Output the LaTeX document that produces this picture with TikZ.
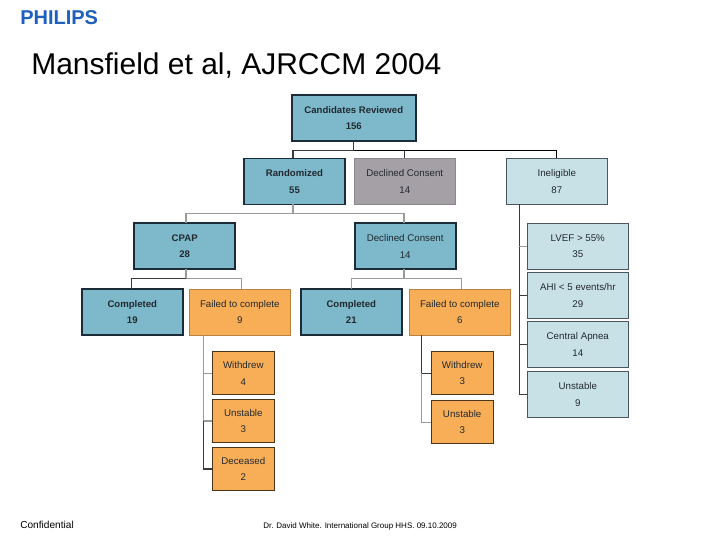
\documentclass[tikz,border=0pt]{standalone}
\usepackage{fontspec}
\setmainfont{Liberation Sans}
\definecolor{teal}{HTML}{7DB8CB}
\definecolor{greybox}{HTML}{A59FA6}
\definecolor{pale}{HTML}{C8E1E6}
\definecolor{orangebox}{HTML}{F8AE57}
\definecolor{darkedge}{HTML}{1B2B38}
\definecolor{phil}{HTML}{1E60BE}
\definecolor{ink}{HTML}{222A30}
\definecolor{wire}{HTML}{9A9A9A}
\definecolor{wiredark}{HTML}{3A3A3A}
\tikzset{
  boxbase/.style={inner sep=0pt,outer sep=0pt,align=center,text=ink,font=\fontsize{7.3}{12.4}\selectfont,minimum width=75.75pt,minimum height=34.5pt},
  tealbold/.style={boxbase,fill=teal,draw=darkedge,line width=1.2pt,font=\fontsize{7.2}{12.4}\selectfont\bfseries},
  tealplain/.style={boxbase,fill=teal,draw=darkedge,line width=1.2pt},
  greyplain/.style={boxbase,fill=greybox,draw=greybox!85!black,line width=.5pt},
  paleplain/.style={boxbase,fill=pale,draw=darkedge!80,line width=.6pt},
  orangeplain/.style={boxbase,fill=orangebox,draw=orangebox!75!black,line width=.6pt},
  smallorange/.style={orangeplain,minimum width=46.5pt,minimum height=32.5pt,draw=black!70!orangebox},
  thin wire/.style={draw=wire,line width=.8pt},
  dark wire/.style={draw=wiredark,line width=.8pt}
}
\begin{document}
\begin{tikzpicture}[x=.75pt,y=-.75pt]
\useasboundingbox (0,0) rectangle (720,540);
\fill[white] (0,0) rectangle (720,540);

% junctions
\coordinate (jtop) at (353.5,150.5);
\coordinate (jrand) at (293,213.5);
\coordinate (jcpap) at (186,278.3);
\coordinate (jdec) at (404,278.3);
\coordinate (tfail) at (203.3,0);
\coordinate (tsix) at (421.3,0);
\coordinate (tinel) at (519.3,0);

\node[tealbold,minimum width=93pt] (cand) at (353.8,118) {Candidates Reviewed\\156};
\node[tealbold] (rand) at (294.5,181.3) {Randomized\\55};
\node[greyplain] (declg) at (404.8,181.3) {Declined Consent\\14};
\node[paleplain] (inel) at (556.8,181.3) {Ineligible\\87};
\node[tealbold] (cpap) at (184.7,246.2) {CPAP\\28};
\node[tealplain] (decl) at (405.2,246.2) {Declined Consent\\14};
\node[tealbold] (comp) at (132.3,312) {Completed\\19};
\node[orangeplain] (fail) at (239.8,312) {Failed to complete\\9};
\node[tealbold] (compb) at (351.3,312) {Completed\\21};
\node[orangeplain] (failb) at (459.8,312) {Failed to complete\\6};
\node[paleplain] (lvef) at (577.8,246.2) {LVEF > 55\%\\35};
\node[paleplain] (ahi) at (577.8,295.3) {AHI < 5 events/hr\\29};
\node[paleplain] (capn) at (577.8,344.6) {Central Apnea\\14};
\node[paleplain] (unst) at (577.8,394.3) {Unstable\\9};
\node[smallorange] (wda) at (243.3,373.2) {Withdrew\\4};
\node[smallorange] (usa) at (243.3,421) {Unstable\\3};
\node[smallorange] (dec) at (243.3,469) {Deceased\\2};
\node[smallorange] (wdb) at (462.2,373.2) {Withdrew\\3};
\node[smallorange] (usb) at (462.2,422.2) {Unstable\\3};

\draw[dark wire] (cand.south) -- (cand.south |- jtop);
\draw[dark wire] (rand.north -| jrand) |- (jtop) -| (declg.north);
\draw[draw=black,line width=.8pt] (jtop) -| (inel.north);
\draw[thin wire] (rand.south -| jrand) -- (jrand);
\draw[thin wire] (cpap.north -| jcpap) |- (jrand) -| (decl.north -| jdec);
\draw[thin wire,line width=1.2pt] (cpap.south -| jcpap) -- (jcpap);
\draw[dark wire] (comp.north -| 131.5,0) |- (jcpap);
\draw[thin wire] (jcpap) -| (fail.north -| 241.7,0);
\draw[thin wire,line width=1.2pt] (decl.south -| jdec) -- (jdec);
\draw[thin wire] (compb.north -| 351.3,0) |- (jdec) -| (failb.north -| 461.7,0);
\draw[thin wire] (fail.south -| tfail) |- (wda.west);
\draw[thin wire] (fail.south -| tfail) |- (usa.west);
\draw[dark wire] (usa.west -| tfail) |- (dec.west);
\draw[dark wire] (failb.south -| tsix) |- (wdb.west);
\draw[thin wire] (wdb.west -| tsix) |- (usb.west);
\draw[dark wire] (inel.south -| tinel) |- (unst.west);
\draw[thin wire] (lvef.west -| tinel) -- (lvef.west);
\draw[dark wire] (ahi.west -| tinel) -- (ahi.west);
\draw[dark wire] (capn.west -| tinel) -- (capn.west);

% header and footer
\node[anchor=base west,inner sep=0pt,text=phil,font=\fontsize{15}{16}\selectfont\bfseries] (logo) at (20,24.5) {PHILIPS};
\node[anchor=base west,inner sep=0pt,text=black,font=\fontsize{22.5}{24}\selectfont] (ttl) at (31,74) {Mansfield et al, AJRCCM 2004};
\node[anchor=base west,inner sep=0pt,text=black,font=\fontsize{7.6}{9}\selectfont] (conf) at (20,528) {Confidential};
\node[anchor=base west,inner sep=0pt,text=black,font=\fontsize{6}{8}\selectfont] (foot) at (263,528) {Dr. David White. International Group HHS. 09.10.2009};
\end{tikzpicture}
\end{document}
